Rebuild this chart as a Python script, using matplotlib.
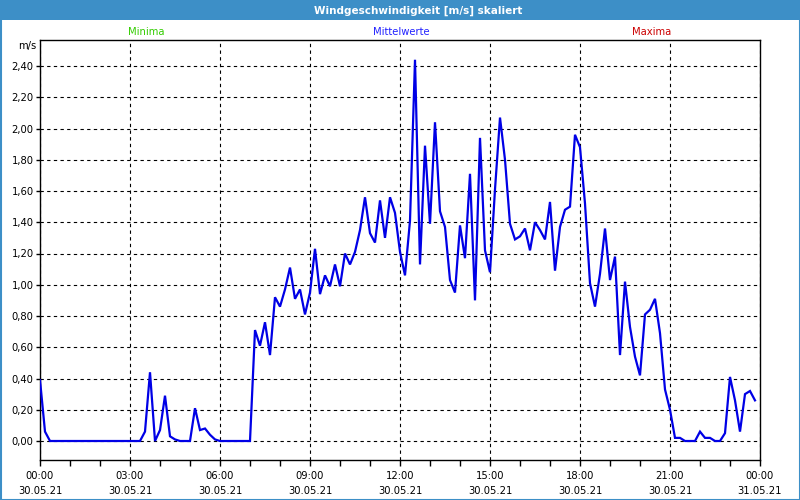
import numpy as np
import matplotlib
matplotlib.use("Agg")
import matplotlib.pyplot as plt
from matplotlib.ticker import FixedLocator, MultipleLocator, FuncFormatter
from matplotlib.patches import Rectangle

# ---- data (10-minute mean wind speed, m/s, 30.05.21) ----
wind_speed = [
    0.39, 0.06, 0.00, 0.00, 0.00, 0.00, 0.00, 0.00, 0.00, 0.00,
    0.00, 0.00, 0.00, 0.00, 0.00, 0.00, 0.00, 0.00, 0.00, 0.00,
    0.00, 0.06, 0.44, 0.00, 0.07, 0.29, 0.03, 0.01, 0.00, 0.00,
    0.00, 0.21, 0.07, 0.08, 0.04, 0.01, 0.00, 0.00, 0.00, 0.00,
    0.00, 0.00, 0.00, 0.71, 0.61, 0.76, 0.55, 0.92, 0.86, 0.97,
    1.11, 0.91, 0.97, 0.81, 0.95, 1.23, 0.94, 1.06, 0.99, 1.13,
    0.99, 1.20, 1.13, 1.21, 1.35, 1.56, 1.33, 1.27, 1.54, 1.30,
    1.56, 1.46, 1.21, 1.06, 1.41, 2.44, 1.13, 1.89, 1.39, 2.04,
    1.47, 1.37, 1.03, 0.95, 1.38, 1.17, 1.71, 0.90, 1.94, 1.22,
    1.08, 1.61, 2.07, 1.80, 1.39, 1.29, 1.31, 1.36, 1.22, 1.40,
    1.35, 1.29, 1.53, 1.09, 1.37, 1.48, 1.50, 1.96, 1.88, 1.52,
    1.01, 0.86, 1.07, 1.36, 1.03, 1.18, 0.55, 1.02, 0.73, 0.54,
    0.42, 0.81, 0.84, 0.91, 0.69, 0.33, 0.20, 0.02, 0.02, 0.00,
    0.00, 0.00, 0.06, 0.02, 0.02, 0.00, 0.00, 0.05, 0.41, 0.26,
    0.06, 0.30, 0.32, 0.26,
]
sample_minutes = 10
hours = np.arange(len(wind_speed)) * sample_minutes / 60.0

major_hours = [0, 3, 6, 9, 12, 15, 18, 21, 24]
tick_labels = ["00:00\n30.05.21", "03:00\n30.05.21", "06:00\n30.05.21",
               "09:00\n30.05.21", "12:00\n30.05.21", "15:00\n30.05.21",
               "18:00\n30.05.21", "21:00\n30.05.21", "00:00\n31.05.21"]
y_ticks = [0.0, 0.2, 0.4, 0.6, 0.8, 1.0, 1.2, 1.4, 1.6, 1.8, 2.0, 2.2, 2.4]

title = "Windgeschwindigkeit [m/s] skaliert"
series_labels = ["Minima", "Mittelwerte", "Maxima"]

# ---- figure ----
W, H = 800, 500
fig = plt.figure(figsize=(W / 100, H / 100), dpi=100, facecolor="white")
font = "DejaVu Sans"
fs = 7.2

ax = fig.add_axes([40 / W, 1 - 460 / H, 720 / W, 420 / H])
ax.set_facecolor("white")
ax.plot(hours, wind_speed, color="#0000e6", lw=1.6, solid_joinstyle="miter", zorder=3)

ax.set_xlim(0, 24)
ax.set_ylim(-(460 - 441) / 156.25, (441 - 40) / 156.25)

ax.xaxis.set_major_locator(FixedLocator(major_hours))
ax.xaxis.set_minor_locator(MultipleLocator(1))
ax.set_xticklabels(tick_labels, fontsize=fs, family=font, linespacing=1.55)
ax.yaxis.set_major_locator(FixedLocator(y_ticks))
ax.yaxis.set_major_formatter(FuncFormatter(lambda v, p: f"{v:.2f}".replace(".", ",")))
for lab in ax.get_yticklabels():
    lab.set_fontsize(fs)
    lab.set_family(font)
ax.tick_params(axis="y", direction="out", length=3, width=1, pad=1.5, labelsize=fs)
ax.tick_params(axis="x", which="both", direction="out", length=4, width=1, pad=4, labelsize=fs)

ax.grid(True, which="major", color="black", linestyle=(0, (3, 3)), linewidth=0.8)
for s in ax.spines.values():
    s.set_color("black")
    s.set_linewidth(1.0)

# title bar
fig.patches.append(Rectangle((0, 1 - 20 / H), 1, 20 / H, transform=fig.transFigure,
                             facecolor="#3d8fc7", edgecolor="none", zorder=0))
fig.text(418 / W, 1 - 10.5 / H, title, color="white", fontsize=7.5, fontweight="bold",
         family=font, ha="center", va="center")
# figure border
fig.patches.append(Rectangle((0.5 / W, 0.5 / H), 1 - 1 / W, 1 - 1 / H, transform=fig.transFigure,
                             facecolor="none", edgecolor="#3d8fc7", linewidth=1.5, zorder=5))

# series labels
fig.text(146 / W, 1 - 32 / H, series_labels[0], color="#33cc00", fontsize=fs, family=font,
         ha="center", va="center")
fig.text(401 / W, 1 - 32 / H, series_labels[1], color="#2222ff", fontsize=fs, family=font,
         ha="center", va="center")
fig.text(652 / W, 1 - 32 / H, series_labels[2], color="#cc0000", fontsize=fs, family=font,
         ha="center", va="center")

fig.text(36 / W, 1 - 46.5 / H, "m/s", color="black", fontsize=fs, family=font,
         ha="right", va="center")

fig.savefig("out.png", dpi=100, facecolor="white")
